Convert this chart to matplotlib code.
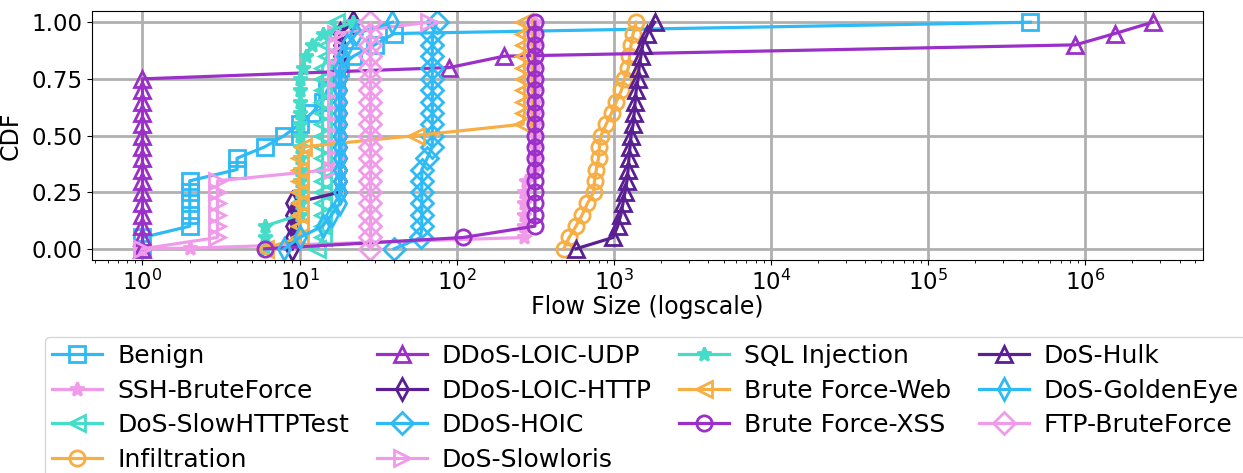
import matplotlib
matplotlib.use("Agg")
import matplotlib.pyplot as plt

# CDF levels (0, 0.05, ..., 1.0)
levels = [0.0, 0.05, 0.10, 0.15, 0.20, 0.25, 0.30, 0.35, 0.40, 0.45, 0.50,
          0.55, 0.60, 0.65, 0.70, 0.75, 0.80, 0.85, 0.90, 0.95, 1.0]
ssh_levels = [0.0, 0.003] + levels[1:]

benign = [1, 1, 2, 2, 2, 2, 2, 4, 4, 6, 8, 10, 12, 14, 15, 17, 18, 22, 30, 40, 450000]
ssh_bruteforce = [1, 2, 270, 270, 270, 270, 270, 275, 310, 315, 315, 315, 315, 315,
                  315, 315, 315, 315, 315, 315, 315, 315]
dos_slowhttptest = [13, 14, 14, 14, 14, 14, 14, 14, 14, 14, 14, 14, 14, 14, 14, 14,
                    14, 15, 15, 16, 17]
infiltration = [480, 520, 575, 630, 680, 745, 755, 775, 800, 810, 830, 895, 970, 1040,
                1120, 1170, 1240, 1260, 1290, 1330, 1390]
ddos_loic_udp = [1, 1, 1, 1, 1, 1, 1, 1, 1, 1, 1, 1, 1, 1, 1, 1,
                 90, 200, 870000, 1550000, 2700000]
ddos_loic_http = [9, 9, 9, 9, 9, 18, 18, 18, 18, 18, 18, 18, 18, 18, 18, 18,
                  18, 18, 18, 18, 22]
ddos_hoic = [40, 59, 60, 60, 60, 60, 60, 60, 65, 70, 70, 70, 70, 70, 70, 70,
             70, 70, 70, 70, 75]
dos_slowloris = [1, 3, 3, 3, 3, 3, 3, 16, 17, 17, 17, 17, 17, 17, 17, 17,
                 17, 17, 17, 17, 67]
sql_injection = [6, 6, 6, 10, 10, 10, 10, 10, 10, 10, 10, 10, 10, 10, 10, 10,
                 10.5, 11, 12, 14, 22]
brute_force_web = [6, 10, 10, 10, 10, 10, 10, 10, 10, 10.5, 55, 265, 270, 270, 270,
                   270, 270, 270, 270, 270, 270]
brute_force_xss = [6, 110, 315, 315, 315, 315, 315, 315, 315, 315, 315, 315, 315, 315,
                   315, 315, 315, 315, 315, 315, 315]
dos_hulk = [575, 990, 1060, 1110, 1145, 1180, 1215, 1235, 1250, 1270, 1290, 1330, 1350,
            1370, 1390, 1430, 1450, 1490, 1530, 1640, 1820]
dos_goldeneye = [8, 10, 14, 16, 18, 18, 18, 18, 18, 18, 18, 18, 18, 18, 18, 18,
                 18, 19, 20, 23, 39]
ftp_bruteforce = [28] * 21

BLUE = "#2DBAF5"
PINK = "#F09BEA"
TEAL = "#45DCC8"
ORANGE = "#F6AE45"
PURPLE = "#9B30C8"
DARK = "#5A1F93"

series = [
    ("Benign", benign, levels, BLUE, "s"),
    ("SSH-BruteForce", ssh_bruteforce, ssh_levels, PINK, "*"),
    ("DoS-SlowHTTPTest", dos_slowhttptest, levels, TEAL, "<"),
    ("Infiltration", infiltration, levels, ORANGE, "o"),
    ("DDoS-LOIC-UDP", ddos_loic_udp, levels, PURPLE, "^"),
    ("DDoS-LOIC-HTTP", ddos_loic_http, levels, DARK, "d"),
    ("DDoS-HOIC", ddos_hoic, levels, BLUE, "D"),
    ("DoS-Slowloris", dos_slowloris, levels, PINK, ">"),
    ("SQL Injection", sql_injection, levels, TEAL, "*"),
    ("Brute Force-Web", brute_force_web, levels, ORANGE, "<"),
    ("Brute Force-XSS", brute_force_xss, levels, PURPLE, "o"),
    ("DoS-Hulk", dos_hulk, levels, DARK, "^"),
    ("DoS-GoldenEye", dos_goldeneye, levels, BLUE, "d"),
    ("FTP-BruteForce", ftp_bruteforce, levels, PINK, "D"),
]

plt.rcParams["font.size"] = 17

fig = plt.figure(figsize=(12.43, 4.73), dpi=100)
ax = fig.add_axes([0.074, 0.450, 0.894, 0.527])

for name, xs, ys, color, marker in series:
    filled = marker == "*"
    ax.plot(xs, ys, color=color, marker=marker, markersize=11 if marker != "*" else 10,
            linewidth=2.3, markeredgewidth=2,
            markerfacecolor=color if filled else "none", label=name)

ax.set_xscale("log")
ax.set_yticks([0.0, 0.25, 0.5, 0.75, 1.0])
ax.set_yticklabels(["0.00", "0.25", "0.50", "0.75", "1.00"])
ax.grid(True, color="#b0b0b0", linewidth=2)
ax.set_axisbelow(True)
ax.set_xlabel("Flow Size (logscale)", labelpad=0)
ax.set_ylabel("CDF", labelpad=6)
ax.tick_params(axis="both", labelsize=16.5)

fig.legend(loc="upper left", bbox_to_anchor=(0.026, 0.315), ncol=4,
           fontsize=18, handlelength=2, handletextpad=0.6,
           columnspacing=1.1, labelspacing=0.42, borderpad=0.3)

fig.savefig("out.png", dpi=100)
